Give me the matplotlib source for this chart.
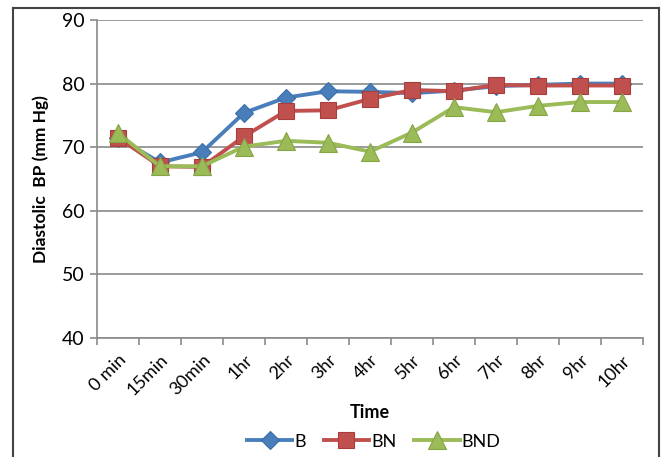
import matplotlib
matplotlib.use("Agg")
import matplotlib.pyplot as plt
from matplotlib.lines import Line2D
import numpy as np

plt.rcParams['font.family'] = ['Lato', 'DejaVu Sans']

time_labels = ['0 min', '15min', '30min', '1hr', '2hr', '3hr', '4hr',
               '5hr', '6hr', '7hr', '8hr', '9hr', '10hr']
bp_b = [71.5, 67.6, 69.2, 75.4, 77.8, 78.8, 78.7, 78.5, 78.9, 79.6, 79.8, 80.0, 80.0]
bp_bn = [71.5, 67.0, 66.9, 71.7, 75.7, 75.8, 77.6, 79.0, 78.8, 79.8, 79.7, 79.7, 79.7]
bp_bnd = [72.2, 67.0, 67.0, 70.1, 71.0, 70.7, 69.3, 72.3, 76.3, 75.5, 76.5, 77.1, 77.1]

series = [
    ('B', bp_b, '#4a7ebb', '#3a6ea5', 'D', 9),
    ('BN', bp_bn, '#c0504d', '#a83e3b', 's', 11),
    ('BND', bp_bnd, '#9bbb59', '#86a545', '^', 12.5),
]

fig = plt.figure(figsize=(6.61, 4.57), dpi=100)
ax = fig.add_axes([97 / 661, 1 - 338 / 457, 546 / 661, 318 / 457])

x = np.arange(len(time_labels))
for name, vals, col, edge, mk, ms in series:
    ax.plot(x, vals, color=col, lw=2.8, marker=mk, markersize=ms,
            markerfacecolor=col, markeredgecolor=edge, markeredgewidth=0.8,
            label=name, zorder=3)

ax.set_xlim(-0.5, len(time_labels) - 0.5)
ax.set_ylim(40, 90)
ax.set_yticks(np.arange(40, 91, 10))
ax.yaxis.grid(True, color='#8a8a8a', lw=1.2)
ax.set_axisbelow(True)

ax.set_xticks(x)
ax.set_xticklabels(time_labels, rotation=45, ha='right', rotation_mode='anchor',
                   fontsize=13)
ax.set_xticks(np.arange(-0.5, len(time_labels), 1), minor=True)
ax.tick_params(axis='x', which='major', length=0, pad=10)
ax.tick_params(axis='x', which='minor', length=5, color='#8a8a8a', width=1.2)
ax.tick_params(axis='y', length=5, color='#8a8a8a', width=1.2, labelsize=14, pad=4)

for side in ('top', 'right'):
    ax.spines[side].set_visible(False)
for side in ('left', 'bottom'):
    ax.spines[side].set_color('#8a8a8a')
    ax.spines[side].set_linewidth(1.2)

ax.set_ylabel('Diastolic  BP (mm Hg)', fontsize=12.5, fontweight='bold', labelpad=9)
ax.set_xlabel('Time', fontsize=13, fontweight='bold', labelpad=4)

ax.legend(loc='upper center', bbox_to_anchor=(0.507, -0.25), ncol=3, frameon=False,
          fontsize=13, handlelength=2.5, handletextpad=0.12, columnspacing=1.0)

# outer frame (left, top, right edges)
x0, x1 = 13 / 661, 659 / 661
y_top = 1 - 8 / 457
frame_kw = dict(color='#444444', lw=1.5, transform=fig.transFigure)
fig.add_artist(Line2D([x0, x0], [0, y_top], **frame_kw))
fig.add_artist(Line2D([x0, x1], [y_top, y_top], **frame_kw))
fig.add_artist(Line2D([x1, x1], [0, y_top], **frame_kw))

fig.savefig('out.png', dpi=100)
